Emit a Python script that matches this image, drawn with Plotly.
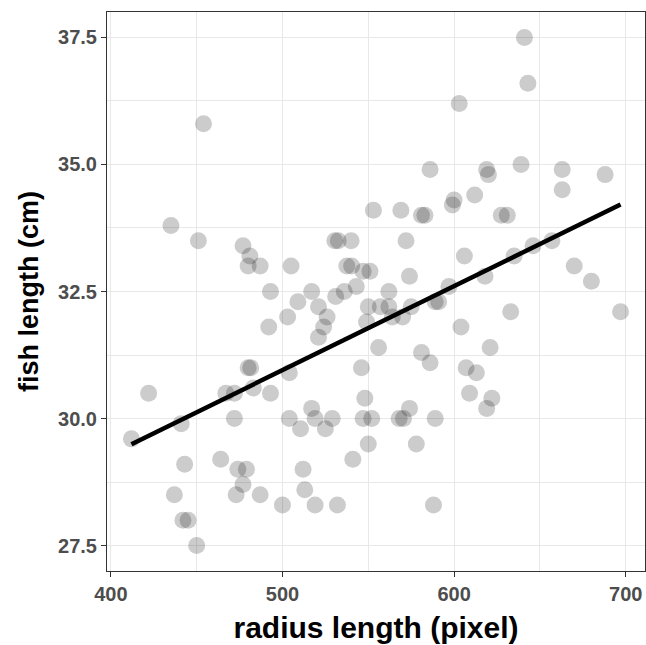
import numpy as np
import plotly.graph_objects as go

radius_px = [
    454, 553, 435, 451, 530.5, 532.5, 540, 477, 481, 480, 487, 505, 537.5, 540.3, 547, 551,
    543, 536, 531, 493, 517, 509, 503, 521, 526, 524, 521, 492, 550, 557, 549, 480,
    481.5, 504, 422, 467, 472, 483, 493, 441, 412, 472, 504, 510.5, 517, 519, 529, 525,
    546, 548, 547, 552, 550, 541, 443, 464, 474, 479, 477, 473, 437, 487, 500, 512,
    513, 519, 532, 442, 445, 450, 641, 643, 603, 586, 619, 620, 639, 663, 688, 663,
    612, 600, 599, 569, 581, 583, 627.5, 631, 572, 606, 635, 646, 657, 670, 680, 574,
    618, 597, 562, 562, 575, 564, 570, 589, 591, 633, 697, 604, 621, 607, 613, 609,
    622, 619, 581, 586, 556, 574, 568, 570.5, 589, 578, 588,
]
fish_cm = [
    35.8, 34.1, 33.8, 33.5, 33.5, 33.5, 33.5, 33.4, 33.2, 33.0, 33.0, 33.0, 33.0, 33.0, 32.9, 32.9,
    32.6, 32.5, 32.4, 32.5, 32.5, 32.3, 32.0, 32.2, 32.0, 31.8, 31.6, 31.8, 32.2, 32.2, 31.9, 31.0,
    31.0, 30.9, 30.5, 30.5, 30.5, 30.6, 30.5, 29.9, 29.6, 30.0, 30.0, 29.8, 30.2, 30.0, 30.0, 29.8,
    31.0, 30.4, 30.0, 30.0, 29.5, 29.2, 29.1, 29.2, 29.0, 29.0, 28.7, 28.5, 28.5, 28.5, 28.3, 29.0,
    28.6, 28.3, 28.3, 28.0, 28.0, 27.5, 37.5, 36.6, 36.2, 34.9, 34.9, 34.8, 35.0, 34.9, 34.8, 34.5,
    34.4, 34.3, 34.2, 34.1, 34.0, 34.0, 34.0, 34.0, 33.5, 33.2, 33.2, 33.4, 33.5, 33.0, 32.7, 32.8,
    32.8, 32.6, 32.5, 32.2, 32.2, 32.0, 32.0, 32.3, 32.3, 32.1, 32.1, 31.8, 31.4, 31.0, 30.9, 30.5,
    30.4, 30.2, 31.3, 31.1, 31.4, 30.2, 30.0, 30.0, 30.0, 29.5, 28.3,
]
x_ticks = [400, 500, 600, 700]
y_ticks = [27.5, 30.0, 32.5, 35.0, 37.5]

x = np.array(radius_px, dtype=float)
y = np.array(fish_cm, dtype=float)
slope, intercept = np.polyfit(x, y, 1)
x_fit = np.array([x.min(), x.max()])
y_fit = slope * x_fit + intercept

def expand(lo, hi, f=0.05):
    d = (hi - lo) * f
    return [lo - d, hi + d]

fig = go.Figure()
fig.add_trace(go.Scatter(
    x=x, y=y, mode="markers",
    marker=dict(size=17, color="rgba(0,0,0,0.2)", line=dict(width=0)),
    showlegend=False, hoverinfo="x+y",
))
fig.add_trace(go.Scatter(
    x=x_fit, y=y_fit, mode="lines",
    line=dict(color="black", width=4.5),
    showlegend=False, hoverinfo="skip",
))

grid = "#e8e8e8"
fam = "Liberation Sans, Arial, sans-serif"
tickfont = dict(family=fam, size=20, color="#4d4d4d", weight="bold")

fig.update_layout(
    width=646, height=645,
    margin=dict(l=107, r=1, t=12, b=74),
    paper_bgcolor="white", plot_bgcolor="white",
    xaxis=dict(
        range=expand(x.min(), x.max()),
        tickvals=x_ticks, ticktext=[str(v) for v in x_ticks],
        ticks="outside", ticklen=5, tickwidth=1, tickcolor="#333333",
        showline=True, mirror=True, linecolor="#333333", linewidth=1,
        showgrid=True, gridcolor=grid, gridwidth=1.1,
        minor=dict(dtick=50, tick0=400, showgrid=True, gridcolor=grid, gridwidth=0.6, ticks=""),
        zeroline=False, tickfont=tickfont,
        title=dict(text="radius length (pixel)",
                   font=dict(family=fam, size=30, color="black", weight="bold"), standoff=12),
    ),
    yaxis=dict(
        range=expand(y.min(), y.max()),
        tickvals=y_ticks, ticktext=[f"{v:.1f}" for v in y_ticks],
        ticks="outside", ticklen=5, tickwidth=1, tickcolor="#333333",
        showline=True, mirror=True, linecolor="#333333", linewidth=1,
        showgrid=True, gridcolor=grid, gridwidth=1.1,
        minor=dict(dtick=1.25, tick0=27.5, showgrid=True, gridcolor=grid, gridwidth=0.6, ticks=""),
        zeroline=False, tickfont=tickfont,
        title=dict(text="fish length (cm)",
                   font=dict(family=fam, size=27, color="black", weight="bold"), standoff=11),
    ),
)

fig.write_html(
    "out.html",
    config={"displayModeBar": False},
    post_script="document.body.style.margin='0';document.body.style.overflow='hidden';",
)
